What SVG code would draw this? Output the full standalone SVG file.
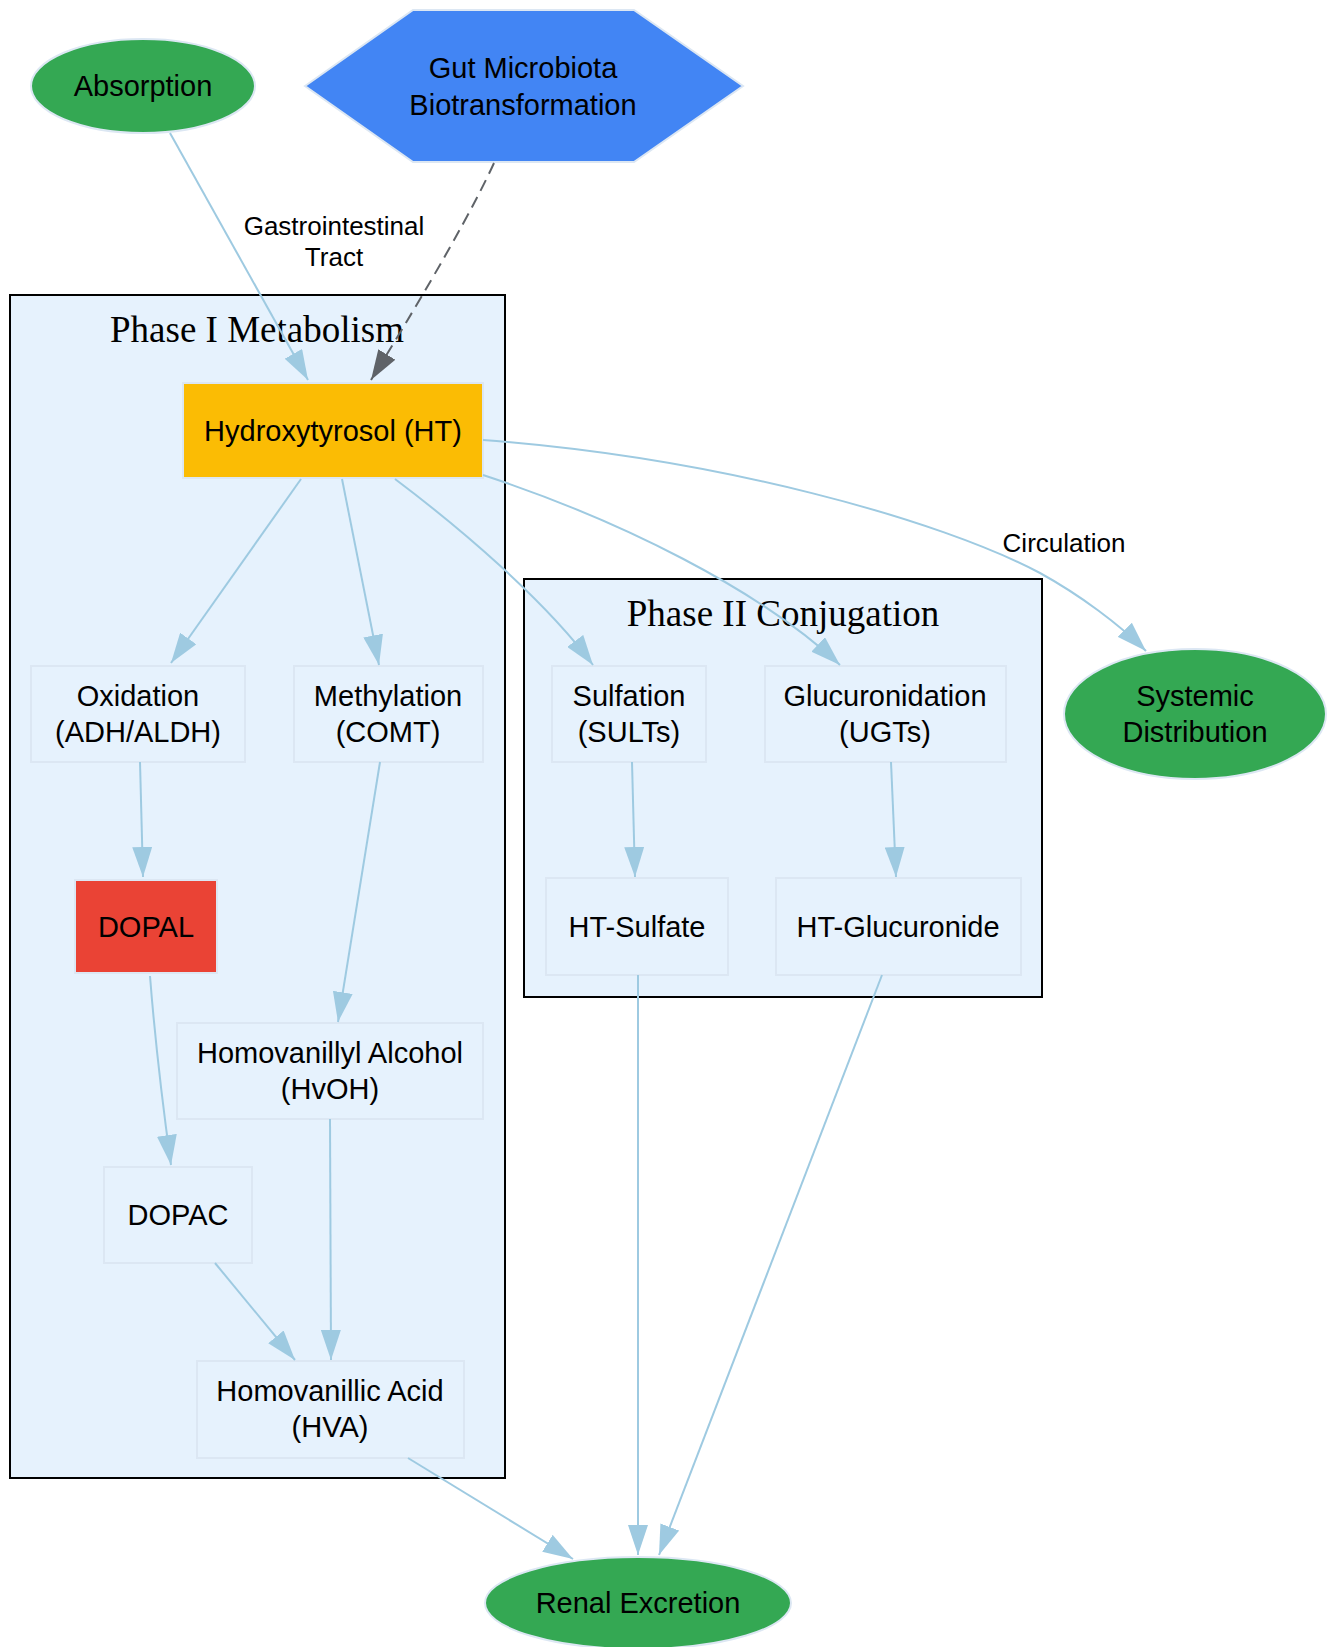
<svg xmlns="http://www.w3.org/2000/svg" width="1329" height="1647" viewBox="0 0 1329 1647">
<style>
.cl{fill:#E6F2FD;stroke:#000;stroke-width:2}
.ct{font-family:"Liberation Serif","Times New Roman",serif;font-size:37px;text-anchor:middle;fill:#000}
.nb{fill:#E6F2FD;stroke:#DCE7F3;stroke-width:2}
.ng{fill:#34A853;stroke:#DCE7F3;stroke-width:2}
.t{font-family:"Liberation Sans",Arial,sans-serif;font-size:29px;text-anchor:middle;fill:#000}
.el{font-family:"Liberation Sans",Arial,sans-serif;font-size:26px;text-anchor:middle;fill:#000}
.e{fill:none;stroke:#9ECAE1;stroke-width:2;marker-end:url(#ah)}
.ed{fill:none;stroke:#5F6368;stroke-width:2;stroke-dasharray:12,7;marker-end:url(#ahd)}
</style>
<defs>
<marker id="ah" markerUnits="userSpaceOnUse" markerWidth="30" markerHeight="20" viewBox="0 0 30 20" refX="30" refY="10" orient="auto">
<path d="M0,0 L30,10 L0,20 z" fill="#9ECAE1"/>
</marker>
<marker id="ahd" markerUnits="userSpaceOnUse" markerWidth="30" markerHeight="20" viewBox="0 0 30 20" refX="30" refY="10" orient="auto">
<path d="M0,0 L30,10 L0,20 z" fill="#5F6368"/>
</marker>
</defs>
<rect width="1329" height="1647" fill="#fff"/>

<g id="cluster_phase1">
<rect class="cl" x="10" y="295" width="495" height="1183"/>
<text class="ct" x="257" y="342">Phase I Metabolism</text>
</g>
<g id="cluster_phase2">
<rect class="cl" x="524" y="579" width="518" height="418"/>
<text class="ct" x="783" y="626">Phase II Conjugation</text>
</g>

<g id="absorption">
<ellipse class="ng" cx="143" cy="86" rx="112" ry="47"/>
<text class="t" x="143" y="96">Absorption</text>
</g>
<g id="gut">
<polygon points="305,86 413,10 634,10 743,86 634,162 413,162" fill="#4285F4" stroke="#DCE7F3" stroke-width="2"/>
<text class="t" x="523" y="78">Gut Microbiota</text>
<text class="t" x="523" y="115">Biotransformation</text>
</g>
<g id="ht">
<rect x="183" y="383" width="300" height="95" fill="#FBBC04" stroke="#DCE7F3" stroke-width="2"/>
<text class="t" x="333" y="441">Hydroxytyrosol (HT)</text>
</g>
<g id="oxidation">
<rect class="nb" x="31" y="666" width="214" height="96"/>
<text class="t" x="138" y="706">Oxidation</text>
<text class="t" x="138" y="742">(ADH/ALDH)</text>
</g>
<g id="methylation">
<rect class="nb" x="294" y="666" width="189" height="96"/>
<text class="t" x="388" y="706">Methylation</text>
<text class="t" x="388" y="742">(COMT)</text>
</g>
<g id="sulfation">
<rect class="nb" x="552" y="666" width="154" height="96"/>
<text class="t" x="629" y="706">Sulfation</text>
<text class="t" x="629" y="742">(SULTs)</text>
</g>
<g id="glucuronidation">
<rect class="nb" x="765" y="666" width="241" height="96"/>
<text class="t" x="885" y="706">Glucuronidation</text>
<text class="t" x="885" y="742">(UGTs)</text>
</g>
<g id="systemic">
<ellipse class="ng" cx="1195" cy="714" rx="131" ry="65"/>
<text class="t" x="1195" y="706">Systemic</text>
<text class="t" x="1195" y="742">Distribution</text>
</g>
<g id="dopal">
<rect x="75" y="880" width="142" height="93" fill="#EA4335" stroke="#DCE7F3" stroke-width="2"/>
<text class="t" x="146" y="937">DOPAL</text>
</g>
<g id="ht_sulfate">
<rect class="nb" x="546" y="878" width="182" height="97"/>
<text class="t" x="637" y="937">HT-Sulfate</text>
</g>
<g id="ht_glucuronide">
<rect class="nb" x="776" y="878" width="245" height="97"/>
<text class="t" x="898" y="937">HT-Glucuronide</text>
</g>
<g id="hvoh">
<rect class="nb" x="177" y="1023" width="306" height="96"/>
<text class="t" x="330" y="1063">Homovanillyl Alcohol</text>
<text class="t" x="330" y="1099">(HvOH)</text>
</g>
<g id="dopac">
<rect class="nb" x="104" y="1167" width="148" height="96"/>
<text class="t" x="178" y="1225">DOPAC</text>
</g>
<g id="hva">
<rect class="nb" x="197" y="1361" width="267" height="97"/>
<text class="t" x="330" y="1401">Homovanillic Acid</text>
<text class="t" x="330" y="1437">(HVA)</text>
</g>
<g id="renal">
<ellipse class="ng" cx="638" cy="1603" rx="153" ry="46"/>
<text class="t" x="638" y="1613">Renal Excretion</text>
</g>

<g id="edges">
<path class="e" d="M170,133 L308,380"/>
<text class="el" x="334" y="235">Gastrointestinal</text>
<text class="el" x="334" y="266">Tract</text>
<path class="ed" d="M494,163 C475,205 430,285 371,380"/>
<path class="e" d="M301,479 L171,663"/>
<path class="e" d="M342,479 L379,665"/>
<path class="e" d="M395,479 C460,528 545,600 593,665"/>
<path class="e" d="M483,475 C620,520 760,590 840,665"/>
<path class="e" d="M483,440 C720,458 940,520 1040,573 C1080,595 1120,625 1146,651"/>
<text class="el" x="1064" y="552">Circulation</text>
<path class="e" d="M140,762 L143,877"/>
<path class="e" d="M380,762 L338,1022"/>
<path class="e" d="M150,976 C155,1040 162,1100 171,1165"/>
<path class="e" d="M330,1119 L331,1360"/>
<path class="e" d="M215,1263 L295,1360"/>
<path class="e" d="M408,1458 L573,1559"/>
<path class="e" d="M632,762 L635,877"/>
<path class="e" d="M891,762 L896,877"/>
<path class="e" d="M638,975 L638,1555"/>
<path class="e" d="M882,975 L659,1555"/>
</g>
</svg>
